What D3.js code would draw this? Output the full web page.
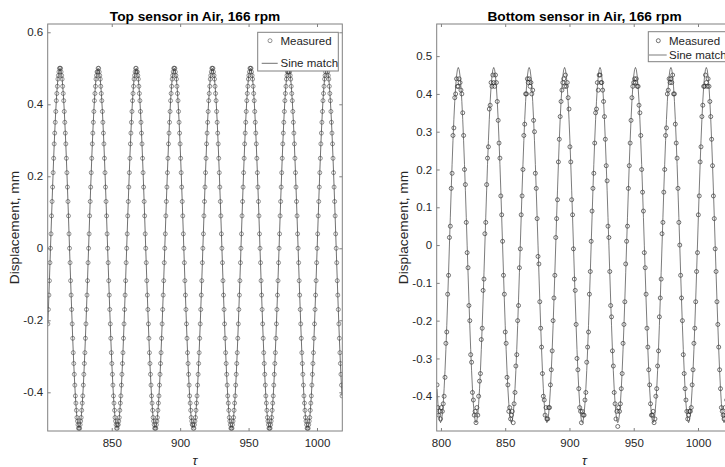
<!DOCTYPE html>
<html><head><meta charset="utf-8">
<script src="https://cdn.jsdelivr.net/npm/d3@7"></script>
<style>
html,body{margin:0;padding:0;background:#fff;overflow:hidden}
svg{display:block;font-family:"Liberation Sans",Arial,Helvetica,sans-serif}
</style></head><body>
<svg id="chart" width="725" height="467"></svg>
<script>
// ---------------- DATA ----------------
const topTitle = "Top sensor in Air, 166 rpm";
const bottomTitle = "Bottom sensor in Air, 166 rpm";
const yLabel = "Displacement, mm";
const xLabel = "\u03C4";
const legendLabels = ["Measured", "Sine match"];

const topXTicks = [850, 900, 950, 1000];
const topYTicks = [0.6, 0.4, 0.2, 0, -0.2, -0.4];
const topXDomain = [803.2, 1018.5];
const topYDomain = [-0.5075, 0.623];

const bottomXTicks = [800, 850, 900, 950, 1000];
const bottomYTicks = [0.5, 0.4, 0.3, 0.2, 0.1, 0, -0.1, -0.2, -0.3, -0.4];
const bottomXDomain = [796.7, 1026.7];
const bottomYDomain = [-0.492, 0.585];

// sine match: [amplitude, period, tau of first peak, offset]
const topSineFit = [0.5, 27.84, 812.2, 0];
const bottomSineFit = [0.47, 27.57, 813.5, 0];

// measured sample times: [first tau, tau step]
const topSampling = [803.31, 0.38667];
const bottomSampling = [796.96, 0.68925];

// measured displacement, mm (top sensor)
const topMeasured = [
-.21,-.17,-.13,-.09,-.04,0,.04,.09,.13,.17,.21,.25,.29,.32,.35,.38,.41,.43,.45,.47,.48,.49,.5,
.5,.5,.49,.48,.47,.45,.43,.41,.38,.35,.32,.29,.25,.21,.17,.13,.09,.04,0,-.04,-.09,-.13,-.17,-.21,-.25,-.29,-.32,-.35,-.38,-.41,-.43,-.45,-.47,-.48,-.49,-.5,-.5,-.5,-.49,-.48,-.47,-.45,-.43,-.41,-.38,-.35,-.32,-.29,-.25,-.21,-.17,-.13,-.09,-.04,0,.04,.09,.13,.17,.21,.25,.29,.32,.35,.38,.41,.43,.45,.47,.48,.49,.49,
.5,.5,.49,.48,.47,.45,.43,.41,.38,.35,.32,.29,.25,.21,.17,.13,.09,.04,0,-.04,-.09,-.13,-.17,-.21,-.25,-.29,-.32,-.35,-.38,-.41,-.43,-.45,-.47,-.48,-.49,-.5,-.5,-.49,-.49,-.48,-.47,-.45,-.43,-.41,-.38,-.35,-.32,-.29,-.25,-.21,-.17,-.13,-.09,-.04,0,.04,.09,.13,.17,.21,.25,.29,.32,.35,.38,.41,.43,.45,.47,.48,.49,.5,
.5,.49,.49,.48,.47,.45,.43,.41,.38,.35,.32,.29,.25,.21,.17,.13,.09,.04,0,-.04,-.09,-.13,-.17,-.21,-.25,-.29,-.32,-.35,-.38,-.41,-.43,-.45,-.47,-.48,-.49,-.5,-.5,-.5,-.49,-.48,-.47,-.45,-.43,-.41,-.38,-.35,-.32,-.29,-.25,-.21,-.17,-.13,-.09,-.04,0,.04,.09,.13,.17,.21,.25,.29,.32,.35,.38,.41,.43,.45,.47,.48,.49,.5,
.5,.5,.49,.48,.47,.45,.43,.41,.38,.35,.32,.29,.25,.21,.17,.13,.09,.04,0,-.04,-.09,-.13,-.17,-.21,-.25,-.29,-.32,-.35,-.38,-.41,-.43,-.45,-.47,-.48,-.49,-.49,-.5,-.5,-.49,-.48,-.47,-.45,-.43,-.41,-.38,-.35,-.32,-.29,-.25,-.21,-.17,-.13,-.09,-.04,0,.04,.09,.13,.17,.21,.25,.29,.32,.35,.38,.41,.43,.45,.47,.48,.49,.5,
.5,.5,.49,.48,.47,.45,.43,.41,.38,.35,.32,.29,.25,.21,.17,.13,.09,.04,0,-.04,-.09,-.13,-.17,-.21,-.25,-.29,-.32,-.35,-.38,-.41,-.43,-.45,-.47,-.48,-.49,-.5,-.5,-.5,-.49,-.48,-.47,-.45,-.43,-.41,-.38,-.35,-.32,-.29,-.25,-.21,-.17,-.13,-.09,-.04,0,.04,.09,.13,.17,.21,.25,.29,.32,.35,.38,.41,.43,.45,.47,.48,.49,.5,
.5,.5,.49,.48,.47,.45,.43,.41,.38,.35,.32,.29,.25,.21,.17,.13,.09,.04,0,-.04,-.09,-.13,-.17,-.21,-.25,-.29,-.32,-.35,-.38,-.41,-.43,-.45,-.47,-.48,-.49,-.5,-.5,-.5,-.49,-.48,-.47,-.45,-.43,-.41,-.38,-.35,-.32,-.29,-.25,-.21,-.17,-.13,-.09,-.04,0,.04,.09,.13,.17,.21,.25,.29,.32,.35,.38,.41,.43,.45,.47,.48,.49,.49,
.49,.5,.49,.48,.47,.45,.43,.41,.38,.35,.32,.29,.25,.21,.17,.13,.09,.04,0,-.04,-.09,-.13,-.17,-.21,-.25,-.29,-.32,-.35,-.38,-.41,-.43,-.45,-.47,-.48,-.49,-.5,-.5,-.5,-.49,-.48,-.47,-.45,-.43,-.41,-.38,-.35,-.32,-.29,-.25,-.21,-.17,-.13,-.09,-.04,0,.04,.09,.13,.17,.21,.25,.29,.32,.35,.38,.41,.43,.45,.47,.48,.49,.5,
.5,.5,.49,.48,.47,.45,.43,.41,.38,.35,.32,.29,.25,.21,.17,.13,.09,.04,0,-.04,-.09,-.13,-.17,-.21,-.25,-.29,-.32,-.35,-.38,-.41
];

// measured displacement, mm (bottom sensor)
const bottomMeasured = [
-.37,-.43,-.45,-.44,-.46,-.43,-.44,-.42,-.40,-.35,-.26,-.23,-.13,-.08,.02,.05,.15,.19,.29,.31,.39,.40,.44,.42,
.42,.44,.43,.41,.40,.35,.29,.20,.16,.06, -.02,-.06,-.16,-.20,-.29,-.31,-.39,-.41,-.45,-.44, -.47,-.43,-.45,-.40,-.36,-.34,-.25,-.22,-.12,-.09, .03,.06,.16,.23,.26,.36,.37,.43,.42,.45,
.43,.42,.45,.43,.38,.33,.27,.23,.13,.08, .01,-.08,-.13,-.23,-.26,-.35,-.37,-.44,-.43,-.46, -.45,-.44,-.47,-.42,-.39,-.32,-.29,-.20,-.16,-.06, -.01,.08,.13,.20,.29,.32,.40,.40,.44,.43,
.44,.42,.43,.40,.41,.33,.30,.19,.15,.07, -.03,-.05,-.15,-.22,-.27,-.34,-.40,-.41,-.45,-.43, -.46,-.46,-.43,-.43,-.37,-.33,-.28,-.20,-.14,-.08, .02,.07,.12,.22,.28,.34,.38,.41,.43,.44,
.42,.45,.42,.43,.39,.36,.26,.22,.12,.08, -.01,-.09,-.12,-.21,-.30,-.33,-.38,-.43,-.44,-.47, -.44,-.45,-.45,-.41,-.39,-.31,-.27,-.23,-.13,-.07, .01,.09,.15,.19,.27,.35,.36,.43,.41,.45,
.45,.43,.43,.41,.38,.34,.28,.21,.17,.05, .02,-.07,-.16,-.19,-.28,-.32,-.39,-.42,-.46,-.44, -.48,-.43,-.44,-.42,-.38,-.34,-.26,-.21,-.15,-.05, .01,.05,.15,.21,.27,.33,.39,.42,.43,.44,
.43,.44,.42,.42,.37,.35,.29,.20,.14,.09, -.02,-.06,-.13,-.22,-.27,-.33,-.37,-.42,-.45,-.45, -.44,-.47,-.46,-.40,-.38,-.32,-.28,-.19,-.14,-.09, .03,.06,.14,.20,.29,.31,.40,.41,.44,.43,
.44,.43,.45,.40,.40,.32,.27,.23,.15,.06, .00,-.08,-.14,-.20,-.29,-.34,-.38,-.41,-.44,-.46, -.45,-.44,-.44,-.43,-.37,-.33,-.26,-.22,-.15,-.07, -.02,.08,.13,.22,.26,.34,.37,.42,.42,.45,
.43,.42,.44,.42,.38,.34,.28,.21,.13,.07, -.01,-.07,-.15,-.21,-.27,-.33,-.38,-.43,-.44,-.45, -.46,-.43,-.45,-.41,-.39,-.32,-.28
];

// ---------------- DRAW ----------------
const W = 725, H = 467;
const axisColor = "#808080";
const textColor = "#262626";
const svg = d3.select("#chart");
svg.append("rect").attr("width", W).attr("height", H).attr("fill", "#fff");

function sineFitValue(fit, t) {
  return fit[3] + fit[0] * Math.cos(2 * Math.PI * (t - fit[2]) / fit[1]);
}

function drawPanel(cfg) {
  const b = cfg.box;
  const x = d3.scaleLinear().domain(cfg.xDomain).range([b.left, b.right]);
  const y = d3.scaleLinear().domain(cfg.yDomain).range([b.bottom, b.top]);
  const g = svg.append("g");

  g.append("rect").attr("x", b.left).attr("y", b.top)
    .attr("width", b.right - b.left).attr("height", b.bottom - b.top).attr("fill", "#fff");

  const clipId = "clip-" + cfg.id;
  svg.append("clipPath").attr("id", clipId).append("rect")
    .attr("x", b.left).attr("y", b.top).attr("width", b.right - b.left).attr("height", b.bottom - b.top);

  const pts = cfg.measured.map((v, i) => ({ t: cfg.sampling[0] + i * cfg.sampling[1], v }));

  const plot = g.append("g").attr("clip-path", `url(#${clipId})`);
  plot.selectAll("circle").data(pts).join("circle")
    .attr("cx", d => x(d.t)).attr("cy", d => y(d.v)).attr("r", 2)
    .attr("fill", "none").attr("stroke", cfg.markerColor).attr("stroke-width", 0.6);

  const line = d3.line().x(d => x(d.t)).y(d => y(sineFitValue(cfg.fit, d.t)));
  plot.append("path").datum(pts).attr("d", line)
    .attr("fill", "none").attr("stroke", cfg.lineColor).attr("stroke-width", 0.7);

  const styleAxis = sel => {
    sel.select(".domain").remove();
    sel.selectAll(".tick line").attr("stroke", axisColor);
    sel.selectAll(".tick text").attr("fill", textColor)
      .style("font-size", "11.5px").style("font-family", '"Liberation Sans",Arial,sans-serif');
  };
  const fmt = d => d === 0 ? "0" : String(d).replace("\u2212", "-");
  g.append("g").attr("transform", `translate(0,${b.bottom})`)
    .call(d3.axisBottom(x).tickValues(cfg.xTicks).tickSize(-3).tickPadding(8).tickFormat(fmt)).call(styleAxis);
  g.append("g").attr("transform", `translate(0,${b.top})`)
    .call(d3.axisTop(x).tickValues(cfg.xTicks).tickSize(-3).tickFormat("")).call(styleAxis);
  g.append("g").attr("transform", `translate(${b.left},0)`)
    .call(d3.axisLeft(y).tickValues(cfg.yTicks).tickSize(-3).tickPadding(4.5).tickFormat(fmt)).call(styleAxis);
  g.append("g").attr("transform", `translate(${b.right},0)`)
    .call(d3.axisRight(y).tickValues(cfg.yTicks).tickSize(-3).tickFormat("")).call(styleAxis);

  g.append("rect").attr("x", b.left).attr("y", b.top)
    .attr("width", b.right - b.left).attr("height", b.bottom - b.top)
    .attr("fill", "none").attr("stroke", axisColor).attr("stroke-width", 1);

  g.append("text").attr("x", (b.left + b.right) / 2).attr("y", 20.5)
    .attr("text-anchor", "middle").attr("font-weight", "bold").attr("font-size", 13.7)
    .attr("fill", "#000").text(cfg.title);
  g.append("text").attr("transform", `translate(${cfg.yLabelX},${(b.top + b.bottom) / 2}) rotate(-90)`)
    .attr("text-anchor", "middle").attr("dy", "0.35em").attr("font-size", 13.7)
    .attr("fill", textColor).text(yLabel);
  g.append("text").attr("x", (b.left + b.right) / 2).attr("y", 465)
    .attr("text-anchor", "middle").attr("font-size", 13).attr("font-style", "italic")
    .attr("fill", textColor).text(xLabel);

  const L = cfg.legend;
  const lg = g.append("g");
  lg.append("rect").attr("x", L.x).attr("y", L.y).attr("width", L.w).attr("height", L.h)
    .attr("fill", "#fff").attr("stroke", axisColor).attr("stroke-width", 1);
  lg.append("circle").attr("cx", L.symX).attr("cy", L.row1).attr("r", 2)
    .attr("fill", "none").attr("stroke", cfg.markerColor).attr("stroke-width", 0.6);
  lg.append("line").attr("x1", L.lineX1).attr("x2", L.lineX2).attr("y1", L.row2).attr("y2", L.row2)
    .attr("stroke", cfg.lineColor).attr("stroke-width", 0.7);
  lg.selectAll("text.leg").data(legendLabels).join("text").attr("class", "leg")
    .attr("x", L.textX).attr("y", (d, i) => i === 0 ? L.row1 : L.row2).attr("dy", "0.35em")
    .attr("font-size", 11.5).attr("fill", textColor).text(d => d);
}

drawPanel({
  id: "top", title: topTitle, xDomain: topXDomain, yDomain: topYDomain,
  xTicks: topXTicks, yTicks: topYTicks, fit: topSineFit, sampling: topSampling, measured: topMeasured,
  box: { left: 47.7, right: 342.3, top: 24, bottom: 431 }, yLabelX: 14,
  markerColor: "#4d4d4d", lineColor: "#333",
  legend: { x: 257.7, y: 32.3, w: 80.6, h: 38.7, symX: 270, lineX1: 261.7, lineX2: 277.7, textX: 280.5, row1: 40.7, row2: 63.3 }
});
drawPanel({
  id: "bottom", title: bottomTitle, xDomain: bottomXDomain, yDomain: bottomYDomain,
  xTicks: bottomXTicks, yTicks: bottomYTicks, fit: bottomSineFit, sampling: bottomSampling, measured: bottomMeasured,
  box: { left: 436.7, right: 732.3, top: 24, bottom: 431 }, yLabelX: 403,
  markerColor: "#1a1a1a", lineColor: "#444",
  legend: { x: 648.3, y: 31.7, w: 82, h: 30, symX: 658.3, lineX1: 649, lineX2: 666.7, textX: 669, row1: 40.7, row2: 55 }
});
</script>
</body></html>
